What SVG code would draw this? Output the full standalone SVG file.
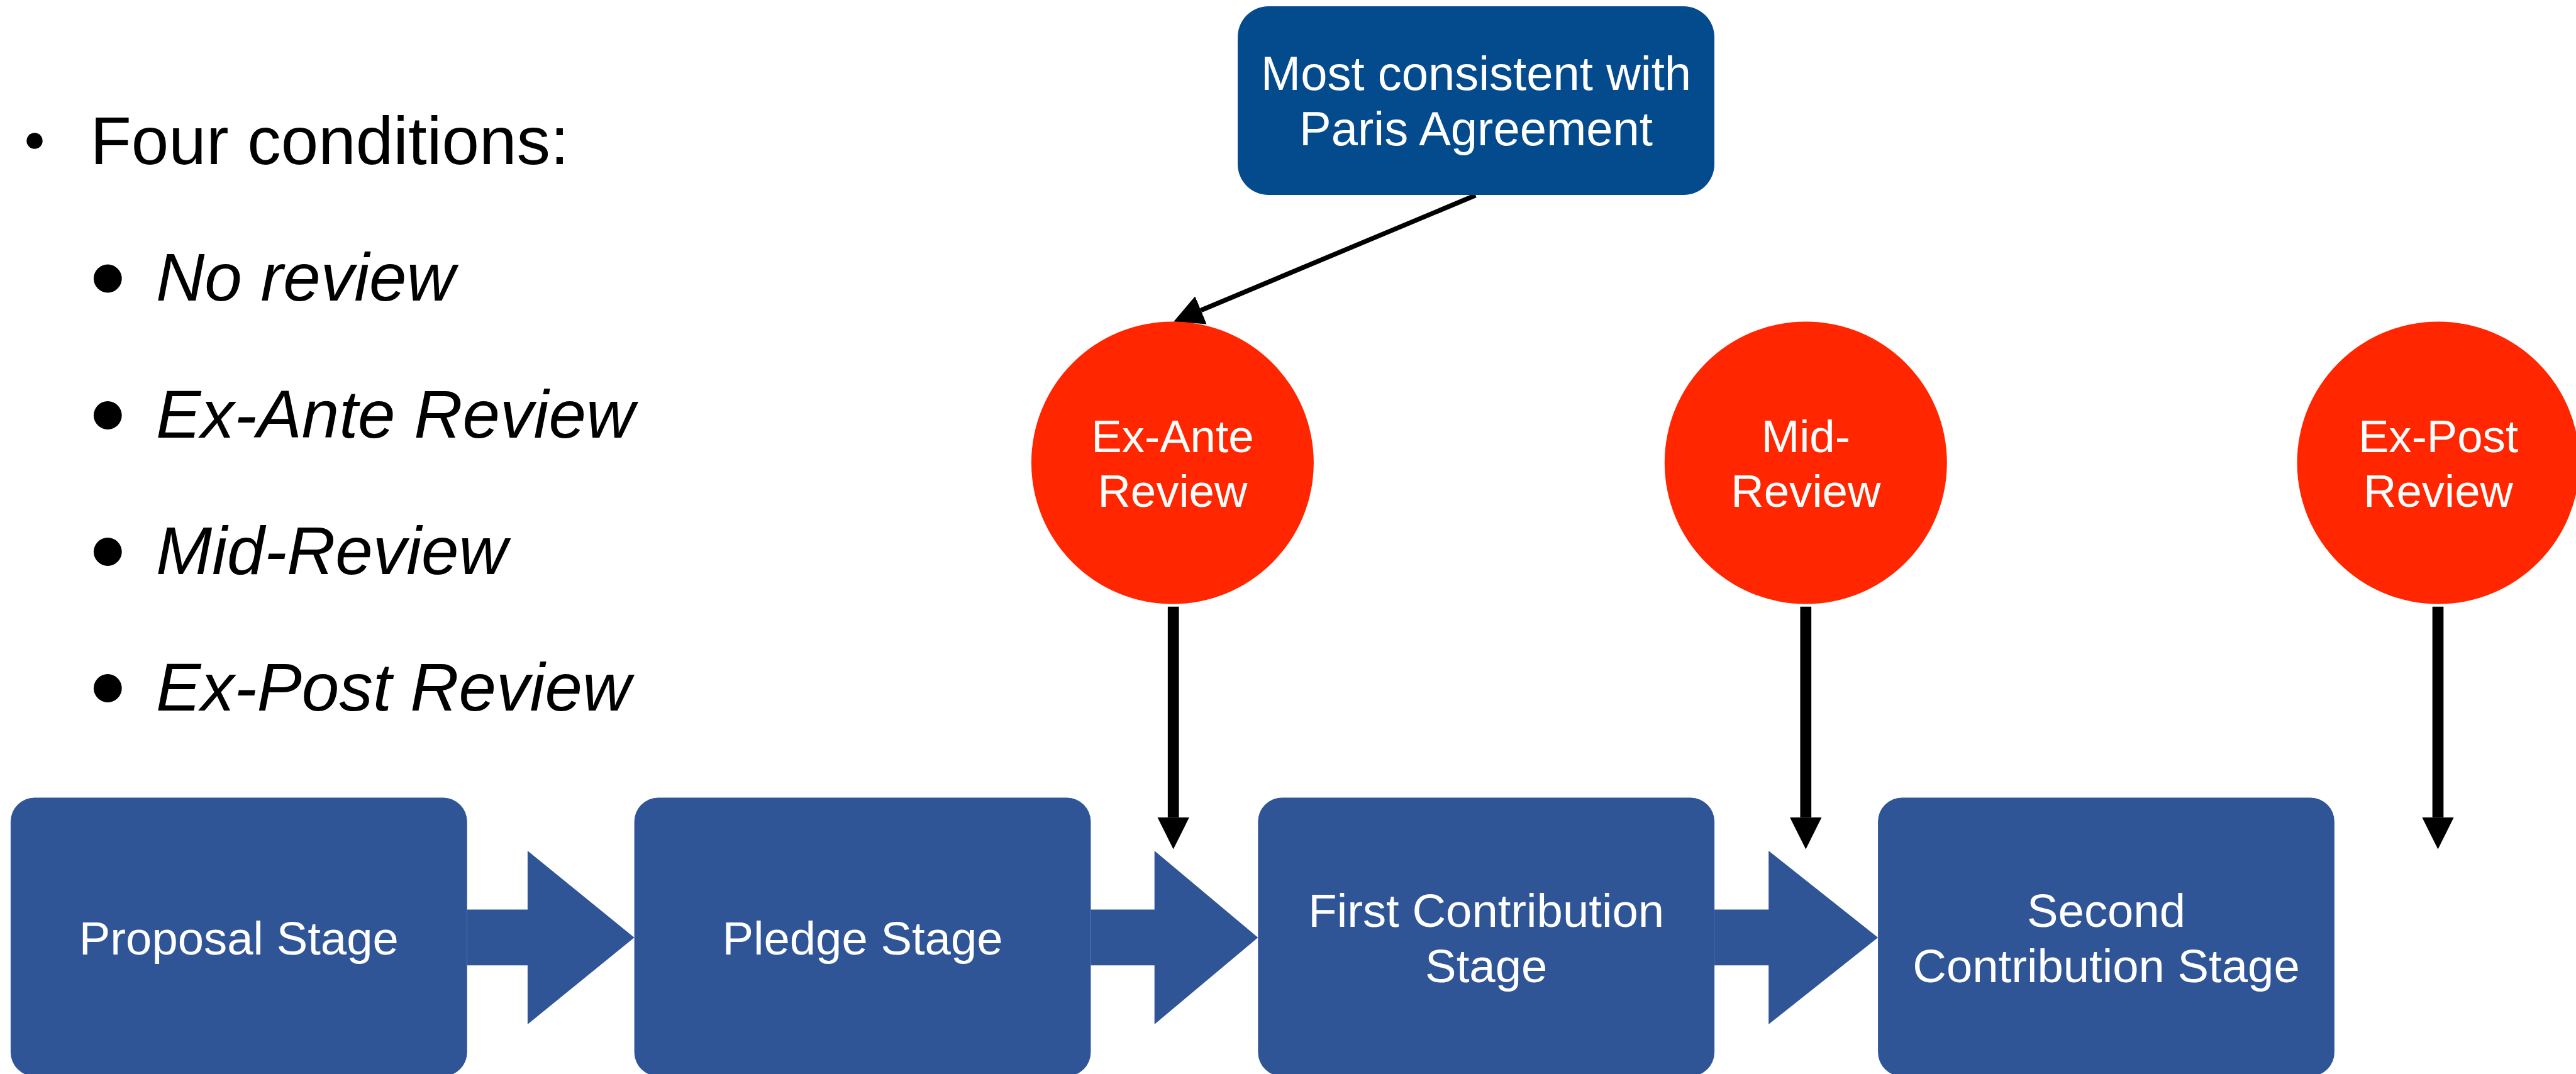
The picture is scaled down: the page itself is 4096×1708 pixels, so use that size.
<svg xmlns="http://www.w3.org/2000/svg" width="4096" height="1708" viewBox="0 0 4096 1708">
  <defs>
    <style>
      .lbl { font-family: "Liberation Sans", Arial, Helvetica, sans-serif; fill: #ffffff; text-anchor: middle; }
      .stage { fill: #2F5597; }
      .review { fill: #FF2600; }
      .top { fill: #034B8C; }
      .blk { fill: #2F5597; }
      .conn { stroke: #000000; fill: none; }
      .bul { font-family: "Liberation Sans", Arial, Helvetica, sans-serif; fill: #000000; }
    </style>
    <marker id="headV" markerUnits="userSpaceOnUse" markerWidth="51" markerHeight="51" refX="0" refY="25.3" orient="auto">
      <path d="M0,0 L50.6,25.3 L0,50.6 Z" fill="#000000"/>
    </marker>
    <marker id="headD" markerUnits="userSpaceOnUse" markerWidth="48" markerHeight="48" refX="0" refY="24" orient="auto">
      <path d="M0,0 L47,24 L0,48 Z" fill="#000000"/>
    </marker>
  </defs>
  <rect x="0" y="0" width="4096" height="1708" fill="#ffffff"/>

  <g id="bullets">
    <circle cx="55" cy="224" r="12.7" fill="#000000"/>
    <text class="bul" x="143.5" y="261" font-size="107">Four conditions:</text>
    <circle cx="171.3" cy="443" r="22.4" fill="#000000"/>
    <text class="bul" x="248" y="478" font-size="107" font-style="italic">No review</text>
    <circle cx="171.3" cy="660.5" r="22.4" fill="#000000"/>
    <text class="bul" x="248" y="695.5" font-size="107" font-style="italic">Ex-Ante Review</text>
    <circle cx="171.3" cy="877.5" r="22.4" fill="#000000"/>
    <text class="bul" x="248" y="912.5" font-size="107" font-style="italic">Mid-Review</text>
    <circle cx="171.3" cy="1094.5" r="22.4" fill="#000000"/>
    <text class="bul" x="248" y="1129.5" font-size="107" font-style="italic">Ex-Post Review</text>
  </g>

  <g id="connectors">
    <line class="conn" x1="2346.3" y1="310.6" x2="1909.5" y2="493.4" stroke-width="7.6" marker-end="url(#headD)"/>
    <line class="conn" x1="1865.7" y1="964.7" x2="1865.7" y2="1299.8" stroke-width="17.7" marker-end="url(#headV)"/>
    <line class="conn" x1="2871.3" y1="964.7" x2="2871.3" y2="1299.8" stroke-width="17.7" marker-end="url(#headV)"/>
    <line class="conn" x1="3876.5" y1="964.7" x2="3876.5" y2="1299.8" stroke-width="17.7" marker-end="url(#headV)"/>
    <polygon class="blk" points="742.7,1446.6 838.9,1446.6 838.9,1353 1008.6,1491 838.9,1629 838.9,1535.2 742.7,1535.2"/>
    <polygon class="blk" points="1734.4,1446.6 1835.7,1446.6 1835.7,1353 2000.3,1491 1835.7,1629 1835.7,1535.2 1734.4,1535.2"/>
    <polygon class="blk" points="2726.1,1446.6 2812.2,1446.6 2812.2,1353 2986.1,1491 2812.2,1629 2812.2,1535.2 2726.1,1535.2"/>
  </g>

  <g id="paris">
    <rect class="top" x="1968" y="10" width="758" height="300" rx="49" ry="49"/>
    <text class="lbl" x="2347" y="142.6" font-size="76">Most consistent with</text>
    <text class="lbl" x="2347" y="231" font-size="76">Paris Agreement</text>
  </g>

  <g id="ex-ante">
    <circle class="review" cx="1864.4" cy="736" r="224.5"/>
    <text class="lbl" x="1864.4" y="719" font-size="72.6">Ex-Ante</text>
    <text class="lbl" x="1864.4" y="806" font-size="72.6">Review</text>
  </g>
  <g id="mid-review">
    <circle class="review" cx="2871.3" cy="736" r="224.5"/>
    <text class="lbl" x="2871.3" y="719" font-size="72.6">Mid-</text>
    <text class="lbl" x="2871.3" y="806" font-size="72.6">Review</text>
  </g>
  <g id="ex-post">
    <circle class="review" cx="3877" cy="736" r="224.5"/>
    <text class="lbl" x="3877" y="719" font-size="72.6">Ex-Post</text>
    <text class="lbl" x="3877" y="806" font-size="72.6">Review</text>
  </g>

  <g id="proposal">
    <rect class="stage" x="16.9" y="1268.5" width="725.8" height="443" rx="38" ry="38"/>
    <text class="lbl" x="379.8" y="1517.5" font-size="74.3">Proposal Stage</text>
  </g>
  <g id="pledge">
    <rect class="stage" x="1008.6" y="1268.5" width="725.8" height="443" rx="38" ry="38"/>
    <text class="lbl" x="1371.5" y="1517.5" font-size="74.3">Pledge Stage</text>
  </g>
  <g id="first-contribution">
    <rect class="stage" x="2000.3" y="1268.5" width="725.8" height="443" rx="38" ry="38"/>
    <text class="lbl" x="2363.2" y="1473.6" font-size="74.3">First Contribution</text>
    <text class="lbl" x="2363.2" y="1561.8" font-size="74.3">Stage</text>
  </g>
  <g id="second-contribution">
    <rect class="stage" x="2986.1" y="1268.5" width="725.8" height="443" rx="38" ry="38"/>
    <text class="lbl" x="3349" y="1473.6" font-size="74.3">Second</text>
    <text class="lbl" x="3349" y="1561.8" font-size="74.3">Contribution Stage</text>
  </g>
</svg>
